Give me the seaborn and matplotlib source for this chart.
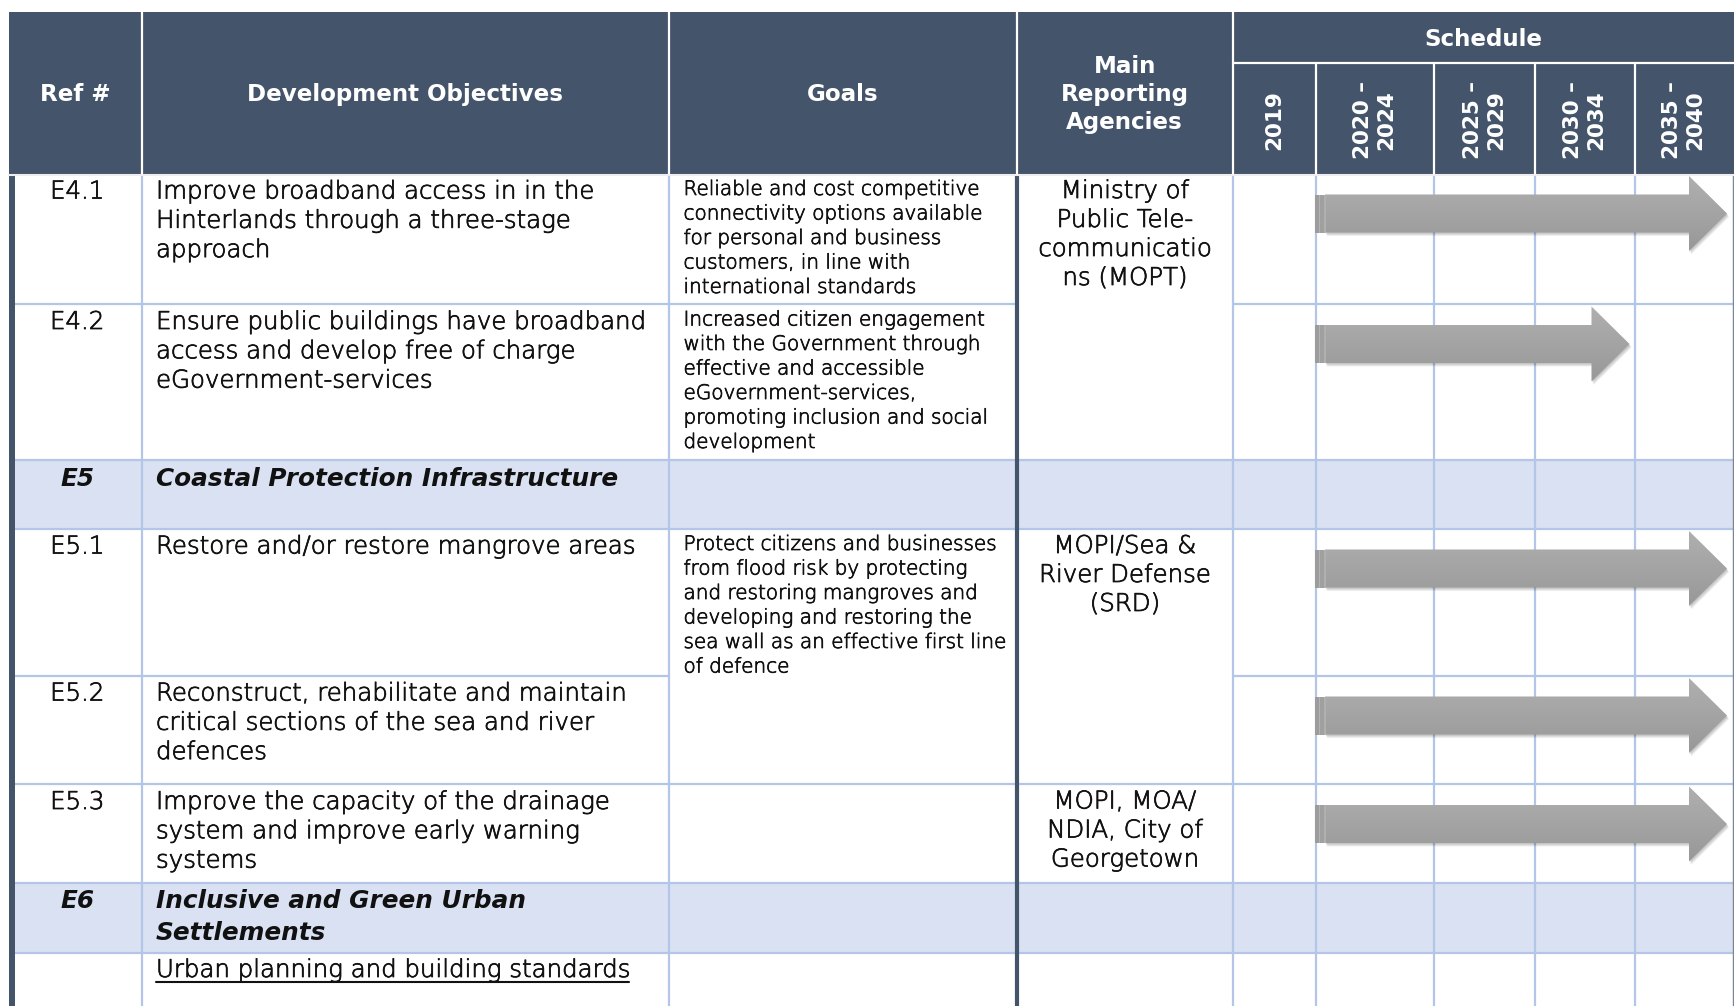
import numpy as np
import matplotlib
matplotlib.use("Agg")
import matplotlib.pyplot as plt
import matplotlib.patheffects as pe
import seaborn as sns
from matplotlib.patches import Polygon, Rectangle
from matplotlib.colors import LinearSegmentedColormap

# ---- table content -------------------------------------------------------
header_labels = ["Ref #", "Development Objectives", "Goals", "Main\nReporting\nAgencies"]
schedule_title = "Schedule"
periods = ["2019", "2020 –\n2024", "2025 –\n2029", "2030 –\n2034", "2035 –\n2040"]

refs = ["E4.1", "E4.2", "E5", "E5.1", "E5.2", "E5.3", "E6", ""]
is_section = [False, False, True, False, False, False, True, False]
objectives = [
    "Improve broadband access in in the\nHinterlands through a three-stage\napproach",
    "Ensure public buildings have broadband\naccess and develop free of charge\neGovernment-services",
    "Coastal Protection Infrastructure",
    "Restore and/or restore mangrove areas",
    "Reconstruct, rehabilitate and maintain\ncritical sections of the sea and river\ndefences",
    "Improve the capacity of the drainage\nsystem and improve early warning\nsystems",
    "Inclusive and Green Urban\nSettlements",
    "Urban planning and building standards",
]
# None = cell merged with the row above
goals = [
    "Reliable and cost competitive\nconnectivity options available\nfor personal and business\n"
    "customers, in line with\ninternational standards",
    "Increased citizen engagement\nwith the Government through\neffective and accessible\n"
    "eGovernment-services,\npromoting inclusion and social\ndevelopment",
    "",
    "Protect citizens and businesses\nfrom flood risk by protecting\nand restoring mangroves and\n"
    "developing and restoring the\nsea wall as an effective first line\nof defence",
    None,
    "",
    "",
    "",
]
agencies = [
    "Ministry of\nPublic Tele-\ncommunicatio\nns (MOPT)",
    None,
    "",
    "MOPI/Sea &\nRiver Defense\n(SRD)",
    None,
    "MOPI, MOA/\nNDIA, City of\nGeorgetown",
    "",
    "",
]
# schedule bars: first and last period index covered
arrow_start = [1, 1, None, 1, 1, 1, None, None]
arrow_end = [4, 3, None, 4, 4, 4, None, None]

# ---- layout / style ------------------------------------------------------
W, H = 1734, 1006
COL_X = [9, 141.5, 669, 1016.5, 1233, 1316, 1434, 1535, 1634.5, 1732]
ROW_Y = [173.5, 304, 460, 528.5, 675.5, 784, 882.5, 953, 1040]
TOP, SUB = 12, 63

HEAD = "#44546A"
SECTION = "#D9E1F2"
GRID = "#B4C6E7"
TXT = "#111111"

BODY_PT, GOAL_PT, HEAD_PT, SEC_PT = 17.6, 14.4, 16.6, 17.8

sns.set_theme(style="white")
plt.rcParams["font.family"] = ["DejaVu Sans"]

fig = plt.figure(figsize=(W / 100, H / 100), dpi=100)
ax = fig.add_axes([0, 0, 1, 1])
ax.set_xlim(0, W)
ax.set_ylim(H, 0)
ax.axis("off")

# thin face thickened a little, to get close to a "light" weight
LIGHT_FX = [pe.Stroke(linewidth=0.55, foreground=TXT), pe.Normal()]


def put_lines(x, y0, text, size, spacing, ha="left", color=TXT, **kw):
    out = []
    for i, line in enumerate(text.split("\n")):
        out.append(ax.text(x, y0 + i * spacing, line, ha=ha, va="baseline",
                           fontsize=size, color=color, **kw))
    return out


def draw_arrow(x0, x1, yc):
    sh, hh, hl = 19, 37.5, 38
    pts = np.array([(x0 + 10, yc - sh), (x1 - hl, yc - sh), (x1 - hl, yc - hh), (x1, yc),
                    (x1 - hl, yc + hh), (x1 - hl, yc + sh), (x0 + 10, yc + sh)])
    for k in range(5):
        off = 0.8 + k * 0.7
        ax.add_patch(Polygon(pts + [off * 0.6, off], closed=True, fc="black",
                             ec="none", alpha=0.05, zorder=3))
    body = Polygon(pts, closed=True, fc="none", ec="none", zorder=4)
    ax.add_patch(body)
    grad = np.linspace(0, 1, 64).reshape(-1, 1)
    cmap = LinearSegmentedColormap.from_list("arr", ["#afafaf", "#a4a4a4", "#989898"])
    im = ax.imshow(grad, extent=[x0, x1, yc + hh, yc - hh], cmap=cmap,
                   aspect="auto", zorder=4, interpolation="bilinear")
    im.set_clip_path(body)
    # rolled start of the bar
    for dx, w, c in [(0, 3.5, "#9c9c9c"), (3.5, 1.5, "#b3b3b3"), (5, 4, "#a0a0a0"), (9, 1.5, "#b0b0b0")]:
        ax.add_patch(Rectangle((x0 + dx, yc - sh), w, 2 * sh, fc=c, ec="none", zorder=4))


# body background and section fills
ax.add_patch(Rectangle((COL_X[0], ROW_Y[0]), W - COL_X[0], ROW_Y[-1] - ROW_Y[0], fc="white", ec="none", zorder=0))
for i, sec in enumerate(is_section):
    if sec:
        ax.add_patch(Rectangle((COL_X[0], ROW_Y[i]), W - COL_X[0], ROW_Y[i + 1] - ROW_Y[i],
                               fc=SECTION, ec="none", zorder=0.5))

# horizontal grid lines (skip merged cells)
for i in range(1, len(refs)):
    spans = [(COL_X[0], COL_X[2])]
    if goals[i] is not None:
        spans.append((COL_X[2], COL_X[3]))
    if agencies[i] is not None:
        spans.append((COL_X[3], COL_X[4]))
    spans.append((COL_X[4], W))
    for a, b in spans:
        ax.plot([a, b], [ROW_Y[i], ROW_Y[i]], color=GRID, lw=1.6, zorder=1, solid_capstyle="butt")

# vertical grid lines
for j, x in enumerate(COL_X[1:-1], start=1):
    if j == 3:
        continue
    ax.plot([x, x], [ROW_Y[0], H], color=GRID, lw=1.6, zorder=1)
ax.plot([COL_X[3], COL_X[3]], [ROW_Y[0], H], color=HEAD, lw=3, zorder=2)
ax.add_patch(Rectangle((COL_X[0], TOP), 5.5, H - TOP, fc=HEAD, ec="none", zorder=2))
ax.plot([W - 1, W - 1], [ROW_Y[0], H], color="#7a8596", lw=1, zorder=2)

# header
ax.add_patch(Rectangle((COL_X[0], TOP), W - COL_X[0], ROW_Y[0] - TOP, fc=HEAD, ec="none", zorder=2))
for x in COL_X[1:5]:
    ax.plot([x, x], [TOP, ROW_Y[0]], color="white", lw=1.6, zorder=3)
for x in COL_X[5:-1]:
    ax.plot([x, x], [SUB, ROW_Y[0]], color="white", lw=1.6, zorder=3)
ax.plot([COL_X[4], W], [SUB, SUB], color="white", lw=1.6, zorder=3)
ax.plot([COL_X[0], W], [ROW_Y[0] + 1, ROW_Y[0] + 1], color="#eeeeee", lw=1.5, zorder=3)

hdr = dict(color="white", fontweight="bold", zorder=5)
for j, lab in enumerate(header_labels):
    cx = (COL_X[j] + COL_X[j + 1]) / 2
    n = lab.count("\n") + 1
    put_lines(cx, 101 - (n - 1) * 28.3 / 2, lab, HEAD_PT, 28.3, ha="center", **hdr)
put_lines((COL_X[4] + W) / 2, 45.5, schedule_title, HEAD_PT, 0, ha="center", **hdr)
for j, p in enumerate(periods):
    cx = (COL_X[4 + j] + COL_X[5 + j]) / 2
    ax.text(cx, 120, p, rotation=90, ha="center", va="center", multialignment="center",
            fontsize=15.5, linespacing=1.2, color="white", fontweight="bold", zorder=5)

# body rows
ref_cx = (COL_X[0] + COL_X[1]) / 2 + 2
agency_cx = (COL_X[3] + COL_X[4]) / 2
underline_text = None
body = dict(fontweight="light", zorder=5, path_effects=LIGHT_FX)
for i, ref in enumerate(refs):
    top = ROW_Y[i]
    if is_section[i]:
        sec = dict(fontweight="bold", fontstyle="italic", zorder=5)
        put_lines(ref_cx, top + 26, ref, SEC_PT, 31.5, ha="center", **sec)
        put_lines(156, top + 26, objectives[i], SEC_PT, 31.5, **sec)
        continue
    if ref:
        put_lines(ref_cx, top + 25, ref, BODY_PT, 29.3, ha="center", **body)
    if i == len(refs) - 1:
        underline_text = put_lines(156, top + 24, objectives[i], BODY_PT, 29.3, **body)[0]
    else:
        put_lines(156, top + 25, objectives[i], BODY_PT, 29.3, **body)
    if goals[i]:
        put_lines(683.5, top + 21.5, goals[i], GOAL_PT, 24.5, **body)
    if agencies[i]:
        put_lines(agency_cx, top + 24.5, agencies[i], BODY_PT, 29, ha="center", **body)
    if arrow_start[i] is not None:
        x0 = COL_X[4 + arrow_start[i]] - 1
        x1 = COL_X[5 + arrow_end[i]] - 5
        draw_arrow(x0, x1, top + 40)

# underline for the sub-heading in the last row
fig.canvas.draw()
bb = underline_text.get_window_extent()
inv = ax.transData.inverted()
(ux0, _), (ux1, _) = inv.transform([(bb.x0, bb.y0), (bb.x1, bb.y0)])
uy = ROW_Y[-2] + 24 + 4.5
ax.plot([ux0, ux1], [uy, uy], color=TXT, lw=1.5, zorder=5)

ax.set_xlim(0, W)
ax.set_ylim(H, 0)
fig.savefig("out.png", dpi=100)
